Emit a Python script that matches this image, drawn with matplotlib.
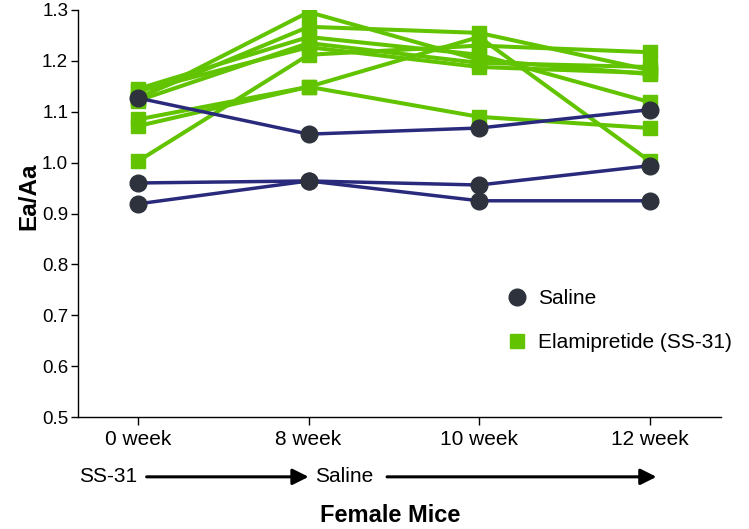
import numpy as np
import matplotlib
matplotlib.use('Agg')
from matplotlib import pyplot as plt
from matplotlib.lines import Line2D

plt.rcParams['font.family'] = ['Liberation Sans', 'DejaVu Sans']

#%% Datos (Ea/Aa, hembras)

weeks = ['0 week', '8 week', '10 week', '12 week']

saline = [
    [1.127, 1.056, 1.068, 1.104],
    [0.960, 0.964, 0.956, 0.994],
    [0.919, 0.964, 0.925, 0.925],
]

ss31 = [
    [1.125, 1.296, 1.202, 1.174],
    [1.128, 1.267, 1.255, 1.182],
    [1.122, 1.235, 1.196, 1.188],
    [1.140, 1.227, 1.188, 1.176],
    [1.085, 1.149, 1.247, 1.003],
    [1.072, 1.149, 1.090, 1.068],
    [1.003, 1.212, 1.230, 1.217],
    [1.145, 1.247, 1.212, 1.119],
]

green = '#62c400'
navy = '#2a2a7c'
dot = '#2d323c'

#%% Grafico

fig = plt.figure(figsize=(7.49, 5.29), dpi=100)
ax = fig.add_axes([0.104, 0.2117, 0.859, 0.7694])

x = np.arange(len(weeks))

for s in ss31:
    ax.plot(x, s, '-', color=green, lw=2.9, marker='s', markersize=10.5,
            markerfacecolor=green, markeredgecolor=green, zorder=2)

for s in saline:
    ax.plot(x, s, '-', color=navy, lw=2.5, zorder=3)
    ax.plot(x, s, 'o', color=dot, markersize=12, zorder=4)

ax.set_xlim(-0.353, 3.42)
ax.set_ylim(0.5, 1.3)
ax.set_yticks(np.arange(0.5, 1.31, 0.1))
ax.set_yticklabels(['%.1f' % v for v in np.arange(0.5, 1.31, 0.1)])
ax.set_xticks(x)
ax.set_xticklabels(weeks)

for sp in ['top', 'right']:
    ax.spines[sp].set_visible(False)
for sp in ['left', 'bottom']:
    ax.spines[sp].set_linewidth(1.0)

ax.tick_params(axis='y', direction='out', length=5, width=1, labelsize=13.5, pad=2)
ax.tick_params(axis='x', direction='out', length=5.5, width=1, labelsize=15, pad=4)

ax.set_ylabel('Ea/Aa', fontsize=17.5, weight='bold')
ax.yaxis.set_label_coords(-0.058, 0.543)

# flechas de tratamiento
tr = ax.get_xaxis_transform()
yarr = -0.147
ax.text(-0.348, yarr, 'SS-31', transform=tr, ha='left', va='center', fontsize=15)
ax.annotate('', xy=(1.0, yarr), xytext=(0.05, yarr), xycoords=tr, textcoords=tr,
            arrowprops=dict(arrowstyle='-|>', lw=2.2, color='black', mutation_scale=24,
                            shrinkA=0, shrinkB=0), annotation_clip=False)
ax.text(1.04, yarr, 'Saline', transform=tr, ha='left', va='center', fontsize=15)
ax.annotate('', xy=(3.04, yarr), xytext=(1.46, yarr), xycoords=tr, textcoords=tr,
            arrowprops=dict(arrowstyle='-|>', lw=2.2, color='black', mutation_scale=24,
                            shrinkA=0, shrinkB=0), annotation_clip=False)

fig.text(390/749, 1-515/529, 'Female Mice', ha='center', va='center',
         fontsize=17, weight='bold')

handles = [Line2D([], [], ls='none', marker='o', color=dot, markersize=12),
           Line2D([], [], ls='none', marker='s', color=green, markersize=10.5)]
ax.legend(handles, ['Saline', 'Elamipretide (SS-31)'], loc='upper left',
          bbox_to_anchor=(0.637, 0.36), frameon=False, fontsize=15,
          handlelength=1.0, handletextpad=0.5, labelspacing=1.2)

fig.savefig('out.png', dpi=100)
